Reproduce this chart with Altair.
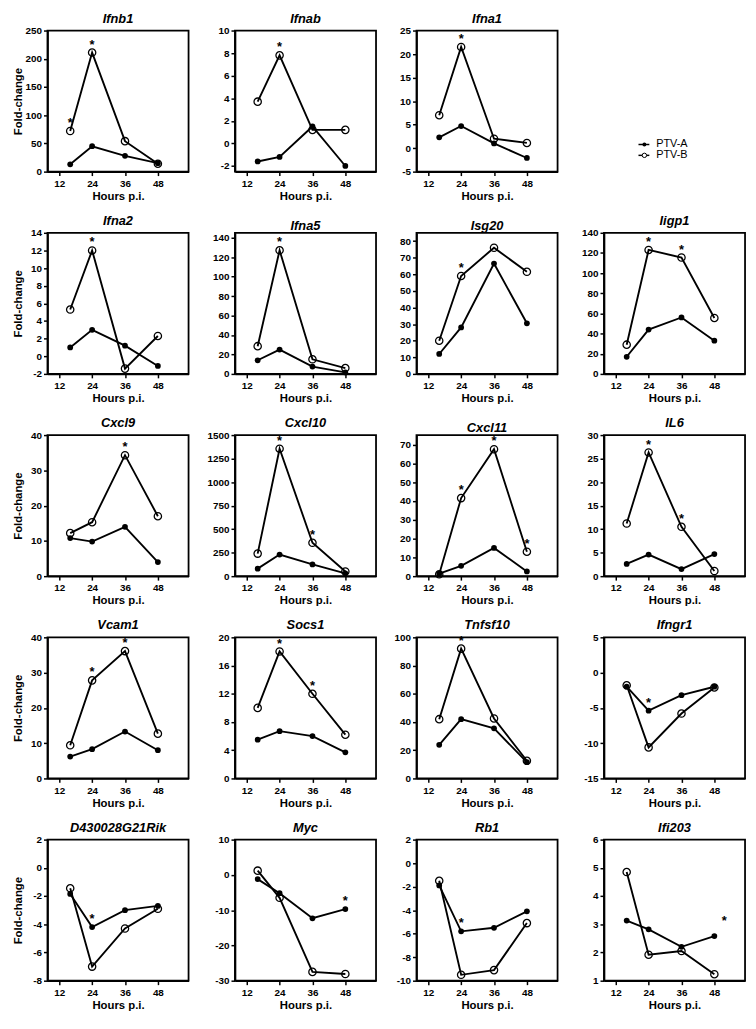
import altair as alt
import pandas as pd
import numpy as np

hours = [16, 24, 36, 48]
genes = ["Ifnb1", "Ifnab", "Ifna1",
         "Ifna2", "Ifna5", "Isg20", "Iigp1",
         "Cxcl9", "Cxcl10", "Cxcl11", "IL6",
         "Vcam1", "Socs1", "Tnfsf10", "Ifngr1",
         "D430028G21Rik", "Myc", "Rb1", "Ifi203"]

ptv_a = [[13, 45, 28, 15], [-1.6, -1.2, 1.5, -2.0], [2.3, 4.7, 1.0, -2.1],
         [1.0, 3.0, 1.2, -1.1], [14, 25, 7.5, 1.5], [12, 28, 66.5, 30.5], [17, 44, 56, 33],
         [10.8, 9.8, 14, 4], [80, 230, 125, 30], [1.3, 5.5, 15, 2.5], [2.6, 4.6, 1.5, 4.7],
         [6.2, 8.3, 13.3, 8.0], [5.5, 6.7, 6.0, 3.7], [23.8, 42, 35.5, 11.5], [-2.0, -5.4, -3.2, -2.0],
         [-1.85, -4.2, -3.0, -2.7], [-1.2, -5.2, -12.3, -9.7], [-1.9, -5.8, -5.5, -4.1], [3.13, 2.82, 2.2, 2.58]]

ptv_b = [[72, 211, 54, 14], [3.7, 7.8, 1.2, 1.2], [7.0, 21.5, 2.0, 1.1],
         [5.3, 12.0, -1.4, 2.3], [28.5, 127, 15, 6], [20, 59, 76, 61.5], [29, 123, 115.5, 55.5],
         [12.2, 15.3, 34.3, 17], [240, 1355, 355, 50], [1.0, 41.5, 67.5, 13], [11.2, 26.3, 10.5, 1.1],
         [9.4, 27.8, 36.1, 12.7], [10.0, 18.0, 12.0, 6.2], [42, 92, 42.5, 12.5], [-1.8, -10.6, -5.8, -2.1],
         [-1.45, -7.0, -4.3, -2.9], [1.2, -6.5, -27.5, -28.1], [-1.5, -9.5, -9.1, -5.1], [4.85, 1.92, 2.05, 1.23]]

# significance marks: (hour, value the asterisk sits above)
stars = [[(16, 72), (24, 211)], [(24, 7.8)], [(24, 21.5)],
         [(24, 12.0)], [(24, 127)], [(24, 59)], [(24, 123), (36, 115.5)],
         [(36, 34.3)], [(24, 1355), (36, 355)], [(24, 41.5), (36, 67.5), (48, 13)], [(24, 26.3), (36, 10.5)],
         [(24, 27.8), (36, 36.1)], [(24, 18.0), (36, 12.0)], [(24, 92)], [(24, -5.4)],
         [(24, -4.2)], [(48, -9.7)], [(24, -5.8)], [(51.6, 2.82)]]

y_lo = [0, -2.5, -5, -2, 0, 0, 0, 0, 0, 0, 0, 0, 0, 0, -15, -8, -30, -10, 1]
y_hi = [250, 10, 25, 14, 145, 85, 140, 40, 1500, 75, 30, 40, 20, 100, 5, 2, 10, 2, 6]
tick_lo = [0, -2, -5, -2, 0, 0, 0, 0, 0, 0, 0, 0, 0, 0, -15, -8, -30, -10, 1]
tick_hi = [250, 10, 25, 14, 140, 80, 140, 40, 1500, 70, 30, 40, 20, 100, 5, 2, 10, 2, 6]
tick_step = [50, 2, 5, 2, 20, 10, 20, 10, 250, 10, 5, 10, 4, 20, 5, 2, 10, 2, 1]

x_ticks = [12, 24, 36, 48]
series = ["PTV-A", "PTV-B"]

FONT = "Liberation Sans"
PW = 143
PH = 143
Y_EXT = [22, 30, 24, 30]

label_expr = "datum.value < 0 ? '-' + format(-datum.value, 'd') : format(datum.value, 'd')"


def panel(i, col):
    recs = []
    for s, vals in zip(series, (ptv_a[i], ptv_b[i])):
        for h, v in zip(hours, vals):
            recs.append({"hour": h, "value": v, "series": s})
    df = pd.DataFrame(recs)
    sdf = pd.DataFrame([{"hour": h, "value": v} for h, v in stars[i]])
    ticks = [float(t) for t in np.arange(tick_lo[i], tick_hi[i] + 1e-9, tick_step[i])]

    xenc = alt.X("hour:Q", scale=alt.Scale(domain=[7.7, 59.2], nice=False, zero=False),
                 axis=alt.Axis(values=x_ticks, format="d", title="Hours p.i.",
                               minExtent=18, maxExtent=18, labelPadding=3))
    yenc = alt.Y("value:Q", scale=alt.Scale(domain=[y_lo[i], y_hi[i]], nice=False, zero=False),
                 axis=alt.Axis(values=ticks, labelExpr=label_expr,
                               title="Fold-change" if col == 0 else None,
                               minExtent=Y_EXT[col], maxExtent=Y_EXT[col]))

    base = alt.Chart(df)
    lines = base.mark_line(color="black", strokeWidth=1.9).encode(x=xenc, y=yenc, detail="series:N")
    pa = base.transform_filter(alt.datum.series == "PTV-A").mark_point(
        filled=True, color="black", size=34, opacity=1).encode(x=xenc, y=yenc)
    pb = base.transform_filter(alt.datum.series == "PTV-B").mark_point(
        filled=False, color="black", size=55, strokeWidth=1.3, opacity=1).encode(x=xenc, y=yenc)
    layers = [lines, pa, pb]
    if len(sdf):
        st = alt.Chart(sdf).mark_text(text="*", font=FONT, fontSize=13, fontWeight="bold",
                                      color="black", baseline="middle", dy=-8).encode(x=xenc, y=yenc)
        layers.append(st)
    return alt.layer(*layers).properties(
        width=PW, height=PH,
        title=alt.TitleParams(genes[i], font=FONT, fontSize=13, fontWeight="bold",
                              fontStyle="italic", color="black", offset=0, frame="group"))


def legend_cell():
    layers = []
    for s, ypix in zip(series, [115.5, 126.5]):
        ldf = pd.DataFrame({"series": [s]})
        base = alt.Chart(ldf)
        layers.append(base.mark_rule(color="black", strokeWidth=1.5).encode(
            x=alt.value(66), x2=alt.value(77), y=alt.value(ypix)))
        if s == "PTV-A":
            layers.append(base.mark_point(filled=True, color="black", size=16, opacity=1).encode(
                x=alt.value(72), y=alt.value(ypix)))
        else:
            layers.append(base.mark_point(filled=True, fill="white", stroke="black", size=20,
                                          strokeWidth=1.0, opacity=1).encode(
                x=alt.value(72), y=alt.value(ypix)))
        layers.append(base.mark_text(font=FONT, fontSize=11, color="black", align="left",
                                     baseline="middle").encode(
            x=alt.value(84), y=alt.value(ypix), text="series:N"))
    return alt.layer(*layers).properties(width=PW, height=PH, view=alt.ViewConfig(stroke=None))


rows = []
rows.append(alt.hconcat(panel(0, 0), panel(1, 1), panel(2, 2), legend_cell(), spacing=15))
idx = 3
for r in range(4):
    rows.append(alt.hconcat(*[panel(idx + c, c) for c in range(4)], spacing=15))
    idx += 4

chart = alt.vconcat(*rows, spacing=11).properties(
    padding={"left": 4, "top": -3, "right": 2, "bottom": 2}
).configure_view(stroke="black", strokeWidth=1.8).configure_axis(
    grid=False, domainColor="black", domainWidth=1.8, tickColor="black", tickWidth=1.5,
    tickSize=4, labelFont=FONT, labelFontSize=10, labelFontWeight="bold", labelColor="black",
    labelPadding=2, titleFont=FONT, titleFontSize=11.5, titleFontWeight="bold", titleColor="black",
    titlePadding=2
).configure_axisY(titlePadding=2).configure_axisX(titlePadding=1)

chart.save("out.html", embed_options={"renderer": "svg", "actions": False})
